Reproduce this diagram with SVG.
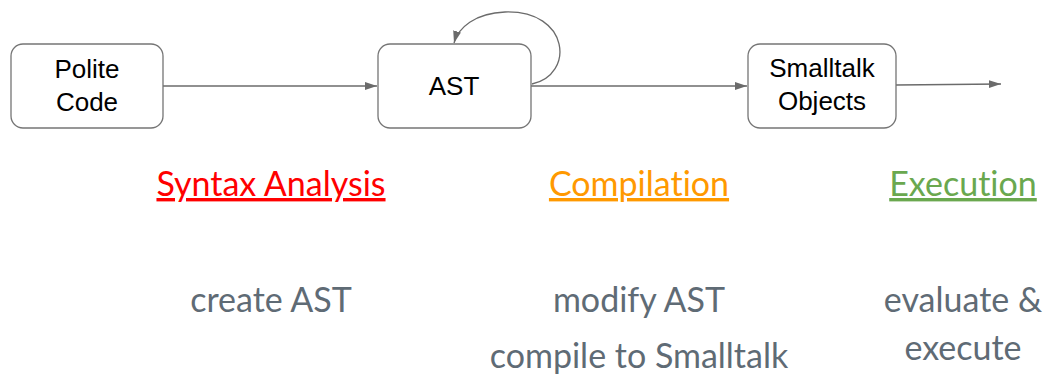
<svg xmlns="http://www.w3.org/2000/svg" width="1049" height="378" viewBox="0 0 1049 378">
<defs>
<style>
.box{fill:#fff;stroke:#757575;stroke-width:1.3}
.lbl{font-family:"Liberation Sans",Arial,sans-serif;font-size:26px;fill:#000;text-anchor:middle}
.conn{fill:none;stroke:#6b6b6b;stroke-width:1.3}
.head{font-family:Lato,"Open Sans",sans-serif;font-size:34px;text-anchor:middle;text-decoration:underline;font-variant-ligatures:none}
.desc{font-family:Lato,"Open Sans",sans-serif;font-size:34px;fill:#5f6b75;text-anchor:middle;font-variant-ligatures:none}
</style>
<marker id="ah" viewBox="0 0 12 10" refX="12" refY="5" markerWidth="12" markerHeight="10" markerUnits="userSpaceOnUse" orient="auto">
<path d="M0,1 L12,5 L0,9 Z" fill="#6b6b6b"/>
</marker>
</defs>
<g id="connectors">
<path class="conn" d="M163,86 L377,86" marker-end="url(#ah)"/>
<path class="conn" d="M531,86 L747,86" marker-end="url(#ah)"/>
<path class="conn" d="M896,85 L1001,84" marker-end="url(#ah)"/>
<path class="conn" d="M532,84 C575,75 570,10 505,12 C475,13 458,28 454,43" marker-end="url(#ah)"/>
</g>
<g id="polite-code">
<rect class="box" x="11" y="44" width="152" height="84" rx="12"/>
<text class="lbl" x="87" y="78">Polite</text>
<text class="lbl" x="87" y="111">Code</text>
</g>
<g id="ast">
<rect class="box" x="378" y="44" width="153" height="84" rx="12"/>
<text class="lbl" x="454" y="95">AST</text>
</g>
<g id="smalltalk-objects">
<rect class="box" x="748" y="44" width="148" height="84" rx="12"/>
<text class="lbl" x="822" y="77">Smalltalk</text>
<text class="lbl" x="822" y="110">Objects</text>
</g>
<g id="phase-syntax">
<text class="head" x="271" y="196" fill="#ff0000">Syntax Analysis</text>
<text class="desc" x="271" y="312">create AST</text>
</g>
<g id="phase-compilation">
<text class="head" x="639" y="196" fill="#ff9900">Compilation</text>
<text class="desc" x="639" y="312">modify AST</text>
<text class="desc" x="639" y="368">compile to Smalltalk</text>
</g>
<g id="phase-execution">
<text class="head" x="963" y="196" fill="#6aa84f">Execution</text>
<text class="desc" x="963" y="312">evaluate &amp;</text>
<text class="desc" x="963" y="360">execute</text>
</g>
</svg>
